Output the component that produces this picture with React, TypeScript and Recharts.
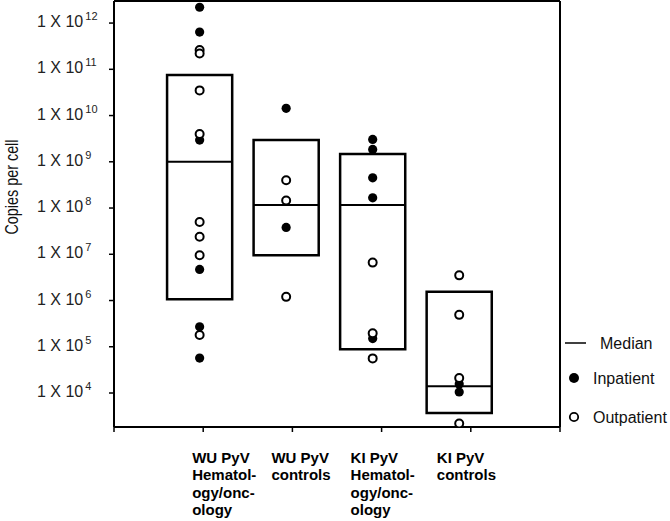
import { ComposedChart, Scatter, XAxis, YAxis, ReferenceArea, ReferenceLine } from "recharts"

const categories = [
  ["WU PyV", "Hematol-", "ogy/onc-", "ology"],
  ["WU PyV", "controls"],
  ["KI PyV", "Hematol-", "ogy/onc-", "ology"],
  ["KI PyV", "controls"],
]
const groupX = [0.96, 1.93, 2.9, 3.87]
const boxHigh = [7.5e10, 2.95e9, 1.48e9, 1.55e6]
const boxLow = [1.07e6, 9.5e6, 8.8e4, 3.7e3]
const medians = [1.0e9, 1.16e8, 1.16e8, 1.4e4]
const inpatient = [
  [2.2e12, 6.4e11, 2.95e9, 4.7e6, 2.7e5, 5.7e4],
  [1.43e10, 3.8e7],
  [3.05e9, 1.85e9, 4.5e8, 1.66e8, 1.5e5],
  [1.57e4, 1.05e4],
]
const outpatient = [
  [2.6e11, 2.2e11, 3.5e10, 4.0e9, 5e7, 2.4e7, 9.5e6, 1.8e5],
  [4.0e8, 1.45e8, 1.2e6],
  [6.6e6, 1.95e5, 5.6e4],
  [3.5e6, 4.9e5, 2.1e4, 2.2e3],
]
const yTicks = [1e4, 1e5, 1e6, 1e7, 1e8, 1e9, 1e10, 1e11, 1e12]
const xTicks = [0, 1, 2, 3, 4, 5]
const yDomain = [1840, 3e12]

const FONT = '"Liberation Sans", Arial, sans-serif'
const BOX_HALF = 0.365

const toPoints = (groups: number[][]) =>
  groups.flatMap((vals, i) => vals.map((v) => ({ x: groupX[i], y: v })))

const inData = toPoints(inpatient)
const outData = toPoints(outpatient)

function YTick({ x, y, payload }: any) {
  const exp = Math.round(Math.log10(payload.value))
  return (
    <text x={x - 70} y={y + 4} fontSize={16} fill="#222" fontFamily={FONT}>
      1 X 10
      <tspan dx={2} dy={-7} fontSize={11}>
        {exp}
      </tspan>
    </text>
  )
}

// label blocks sit a bit left of their tick
const labelShift = [-11, -21, -31, -34]

function XTick({ x, y, payload }: any) {
  const idx = payload.value - 1
  const lines = categories[idx]
  if (!lines) return null
  return (
    <text x={x + labelShift[idx]} y={y + 29} fontSize={15} fontWeight="bold" fill="#000" fontFamily={FONT}>
      {lines.map((l, i) => (
        <tspan key={i} x={x + labelShift[idx]} dy={i === 0 ? 0 : 17.3}>
          {l}
        </tspan>
      ))}
    </text>
  )
}

const filledDot = (p: any) => <circle cx={p.cx} cy={p.cy} r={4.6} fill="#000" />
const openDot = (p: any) => <circle cx={p.cx} cy={p.cy} r={4} fill="#fff" stroke="#000" strokeWidth={2} />

export default function App() {
  return (
    <div style={{ position: "absolute", left: 0, top: 0, width: 670, height: 521, background: "#fff" }}>
      <ComposedChart width={670} height={521} margin={{ top: 1, right: 110, bottom: 0, left: 0 }}>
        <XAxis
          dataKey="x"
          type="number"
          domain={[0, 5]}
          ticks={xTicks}
          height={94}
          axisLine={{ stroke: "#000", strokeWidth: 2 }}
          tickLine={{ stroke: "#000", strokeWidth: 1.5 }}
          tickSize={5}
          tick={<XTick />}
          interval={0}
        />
        <YAxis
          dataKey="y"
          type="number"
          scale="log"
          domain={yDomain}
          allowDataOverflow
          ticks={yTicks}
          width={114}
          axisLine={{ stroke: "#000", strokeWidth: 2 }}
          tickLine={{ stroke: "#000", strokeWidth: 1.5 }}
          tickSize={5}
          tick={<YTick />}
          interval={0}
          label={{
            content: () => (
              <text
                x={18}
                y={187}
                transform="rotate(-90 18 187)"
                textAnchor="middle"
                fontSize={18}
                textLength={95}
                lengthAdjust="spacingAndGlyphs"
                fill="#111"
                fontFamily={FONT}
              >
                Copies per cell
              </text>
            ),
          }}
        />
        {/* frame: top and right edges */}
        <ReferenceLine y={yDomain[1]} stroke="#000" strokeWidth={2} ifOverflow="visible" />
        <ReferenceLine x={5} stroke="#000" strokeWidth={2} ifOverflow="visible" />
        {groupX.map((g, i) => (
          <ReferenceArea
            key={"box" + i}
            x1={g - BOX_HALF}
            x2={g + BOX_HALF}
            y1={boxLow[i]}
            y2={boxHigh[i]}
            fill="none"
            fillOpacity={0}
            stroke="#000"
            strokeWidth={2.5}
            strokeOpacity={1}
            ifOverflow="visible"
          />
        ))}
        <Scatter name="Inpatient" data={inData} dataKey="y" shape={filledDot} isAnimationActive={false} />
        <Scatter name="Outpatient" data={outData} dataKey="y" shape={openDot} isAnimationActive={false} />
        {groupX.map((g, i) => (
          <ReferenceLine
            key={"med" + i}
            segment={[
              { x: g - BOX_HALF, y: medians[i] },
              { x: g + BOX_HALF, y: medians[i] },
            ]}
            stroke="#000"
            strokeWidth={2}
            ifOverflow="visible"
          />
        ))}
      </ComposedChart>
      <svg width={670} height={521} style={{ position: "absolute", left: 0, top: 0, pointerEvents: "none" }}>
        <line x1={565} x2={586} y1={343} y2={343} stroke="#000" strokeWidth={1.5} />
        <text x={600} y={349} fontSize={16} fill="#111" fontFamily={FONT}>Median</text>
        <circle cx={574} cy={378} r={5} fill="#000" />
        <text x={593} y={384} fontSize={16} fill="#111" fontFamily={FONT}>Inpatient</text>
        <circle cx={574} cy={417} r={4.2} fill="#fff" stroke="#000" strokeWidth={1.8} />
        <text x={593} y={423} fontSize={16} fill="#111" fontFamily={FONT}>Outpatient</text>
      </svg>
    </div>
  )
}
